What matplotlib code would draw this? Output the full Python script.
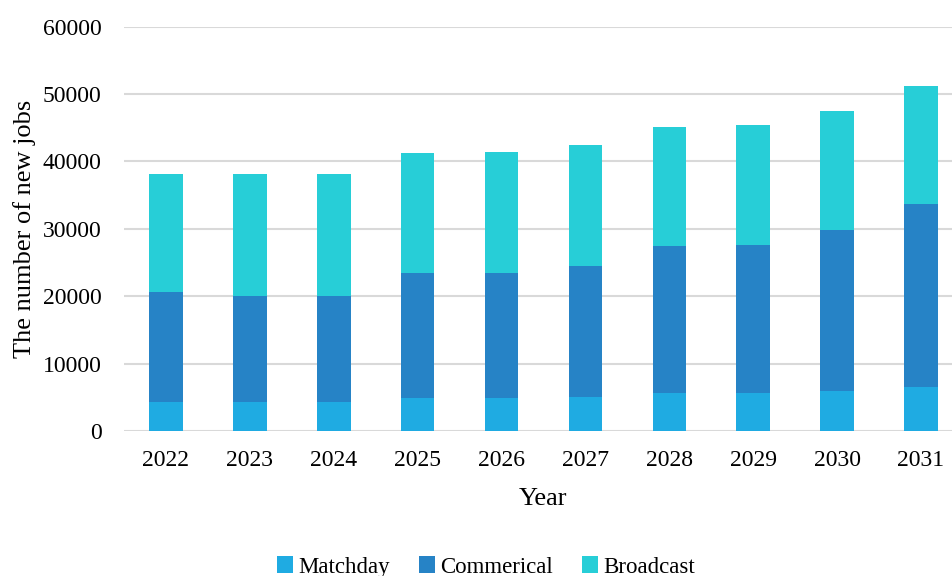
import matplotlib
matplotlib.use("Agg")
import matplotlib.pyplot as plt
import numpy as np

years = ["2022", "2023", "2024", "2025", "2026", "2027", "2028", "2029", "2030", "2031"]
matchday = [4300, 4300, 4300, 4900, 4900, 5100, 5600, 5600, 5900, 6500]
commercial = [16300, 15800, 15800, 18500, 18600, 19400, 21800, 22000, 23900, 27200]
broadcast = [17600, 18000, 18100, 17800, 17900, 17900, 17700, 17800, 17700, 17500]

colors = {"Matchday": "#1fabe2", "Commerical": "#2683c6", "Broadcast": "#27ced7"}

plt.rcParams["font.family"] = ["Liberation Serif", "DejaVu Serif"]

fig = plt.figure(figsize=(9.52, 5.76), dpi=100)
ax = fig.add_axes([124 / 952, 145 / 576, 839 / 952, 404.4 / 576])

x = np.arange(len(years))
w = 0.4
m = np.array(matchday)
c = np.array(commercial)
b = np.array(broadcast)
ax.bar(x, m, w, color=colors["Matchday"], label="Matchday", zorder=3)
ax.bar(x, c, w, bottom=m, color=colors["Commerical"], label="Commerical", zorder=3)
ax.bar(x, b, w, bottom=m + c, color=colors["Broadcast"], label="Broadcast", zorder=3)

ax.set_xlim(-0.5, len(years) - 0.5)
ax.set_ylim(0, 60000)
ax.set_yticks(np.arange(0, 60001, 10000))
ax.set_xticks(x)
ax.set_xticklabels(years)
ax.yaxis.grid(True, color="#d9d9d9", linewidth=1.5, zorder=0)
ax.set_axisbelow(True)
for s in ["top", "right", "left", "bottom"]:
    ax.spines[s].set_visible(False)
ax.tick_params(axis="both", length=0, labelsize=17)
ax.tick_params(axis="y", pad=16)
ax.tick_params(axis="x", pad=14)

ax.set_xlabel("Year", fontsize=19, labelpad=12)
ax.set_ylabel("The number of new jobs", fontsize=19, labelpad=5)

fig.legend(loc="center", bbox_to_anchor=(486 / 952, 9 / 576), ncol=3, frameon=False,
           fontsize=16.5, handlelength=0.7, handleheight=0.7, handletextpad=0.2,
           columnspacing=1.3)

fig.savefig("out.png", dpi=100)
